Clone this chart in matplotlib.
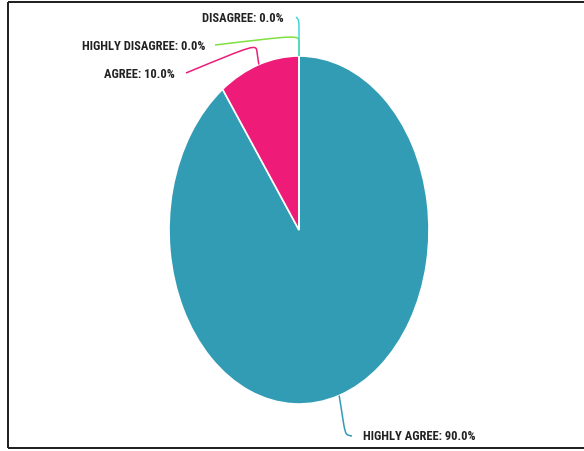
import numpy as np
import matplotlib
matplotlib.use("Agg")
import matplotlib.pyplot as plt
from matplotlib.path import Path
from matplotlib.patches import PathPatch

categories = ["HIGHLY AGREE", "AGREE", "HIGHLY DISAGREE", "DISAGREE"]
values = [90.0, 10.0, 0.0, 0.0]
colors = ["#339cb5", "#ee1b78", "#80e040", "#40d8d8"]

W, H = 584, 451
fig = plt.figure(figsize=(W / 100, H / 100), dpi=100)

# pie geometry in pixels
cx, cy, rx, ry = 299, 230, 130, 174

ax = fig.add_axes([0, 0, 1, 1])
ax.pie(values, colors=colors, startangle=90, counterclock=False, radius=1,
       center=(0, 0), wedgeprops=dict(edgecolor="white", linewidth=1.2),
       normalize=True)
ax.set_aspect("auto")
ax.set_xlim(-cx / rx, (W - cx) / rx)
ax.set_ylim(-(H - cy) / ry, cy / ry)
ax.axis("off")

# overlay in pixel coordinates
ov = fig.add_axes([0, 0, 1, 1], facecolor="none")
ov.set_xlim(0, W)
ov.set_ylim(H, 0)
ov.axis("off")

# frame (left, top, bottom)
lw = 2.0 * 72 / 100
ov.plot([8, 8], [2, 448], color="#222222", lw=lw, solid_capstyle="butt")
ov.plot([8, W], [2, 2], color="#222222", lw=lw, solid_capstyle="butt")
ov.plot([8, W], [448, 448], color="#222222", lw=lw, solid_capstyle="butt")

total = sum(values)
cum = np.cumsum([0] + values)
mids = [(cum[i] + cum[i + 1]) / 2 / total * 360 for i in range(len(values))]

label_layout = {
    "HIGHLY AGREE": dict(end=(352, 436), text=(363, 436), ha="left", ext=(344, 426), ctrl=(346, 435)),
    "AGREE": dict(end=(186, 73), text=(175, 75), ha="right", ext=(257, 52), ctrl=(256, 44)),
    "HIGHLY DISAGREE": dict(end=(215, 45), text=(205, 47), ha="right", ext=(299, 42), ctrl=(299, 35)),
    "DISAGREE": dict(end=(296, 17), text=(284, 19), ha="right", ext=(299, 32), ctrl=(299, 20)),
}

for cat, v, col, m in zip(categories, values, colors, mids):
    th = np.deg2rad(m)
    p0 = (cx + rx * np.sin(th), cy - ry * np.cos(th))
    L = label_layout[cat]
    path = Path([p0, L["ext"], L["ctrl"], L["ctrl"], L["end"]],
                [Path.MOVETO, Path.LINETO, Path.CURVE4, Path.CURVE4, Path.CURVE4])
    ov.add_patch(PathPatch(path, facecolor="none", edgecolor=col, lw=1.1))
    ov.text(L["text"][0], L["text"][1], f"{cat}: {v:.1f}%", ha=L["ha"], va="center",
            fontsize=9, fontweight="bold", color="#222222",
            family=["Roboto Condensed", "DejaVu Sans"])

fig.savefig("out.png", dpi=100, facecolor="white")
